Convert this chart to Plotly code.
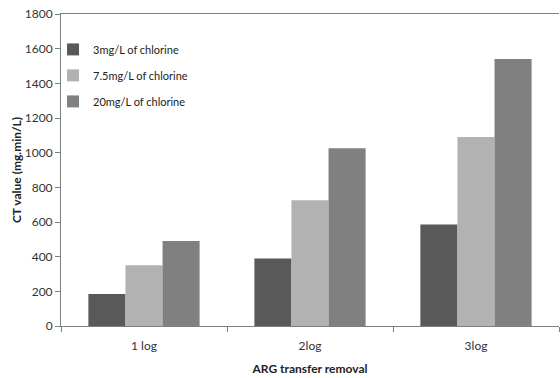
import plotly.graph_objects as go

categories = ["1 log", "2log", "3log"]
series_names = ["3mg/L of chlorine", "7.5mg/L of chlorine", "20mg/L of chlorine"]
vals_3 = [185, 390, 585]
vals_75 = [350, 725, 1090]
vals_20 = [490, 1025, 1540]
colors = ["#595959", "#b2b2b2", "#808080"]
y_ticks = [0, 200, 400, 600, 800, 1000, 1200, 1400, 1600, 1800]

fnt = "Lato, 'Open Sans', sans-serif"
fig = go.Figure()
for i, (name, vals, c) in enumerate(zip(series_names, [vals_3, vals_75, vals_20], colors)):
    fig.add_trace(go.Bar(x=categories, y=vals, name=name, legendgroup=f"g{i}",
                         marker=dict(color=c, line=dict(width=0))))

fig.update_layout(
    width=560, height=378,
    margin=dict(l=61, r=1, t=14, b=52, autoexpand=False),
    paper_bgcolor="white", plot_bgcolor="white",
    barmode="group", bargap=0.33, bargroupgap=0,
    font=dict(family=fnt, size=12, color="#404040"),
    legend=dict(x=-0.016, y=0.933, xanchor="left", yanchor="top", bgcolor="rgba(0,0,0,0)",
                font=dict(size=11, color="#222"), itemwidth=30, tracegroupgap=7,
                traceorder="grouped"),
    xaxis=dict(showline=True, linecolor="#7f7f7f", linewidth=1, mirror=True, automargin=False,
               ticks="outside", tickson="boundaries", ticklen=5, tickcolor="#7f7f7f",
               ticklabelstandoff=9,
               title=dict(text="<b>ARG transfer removal</b>", font=dict(size=12, color="#222"), standoff=12),
               tickfont=dict(size=12, color="#333")),
    yaxis=dict(range=[0, 1800], tickvals=y_ticks, showgrid=False, showline=True, automargin=False,
               linecolor="#7f7f7f", linewidth=1, ticks="outside", ticklen=5, tickcolor="#7f7f7f",
               zeroline=False,
               title=dict(text="<b>CT value (mg.min/L)</b>", font=dict(size=12, color="#222"), standoff=0),
               tickfont=dict(size=12, color="#333")),
)
fig.write_html(
    "out.html",
    config={"responsive": False, "displayModeBar": False},
    post_script="document.body.style.margin='0';document.body.style.overflow='hidden';"
                "Plotly.relayout('{plot_id}', {width:560, height:378});",
)
